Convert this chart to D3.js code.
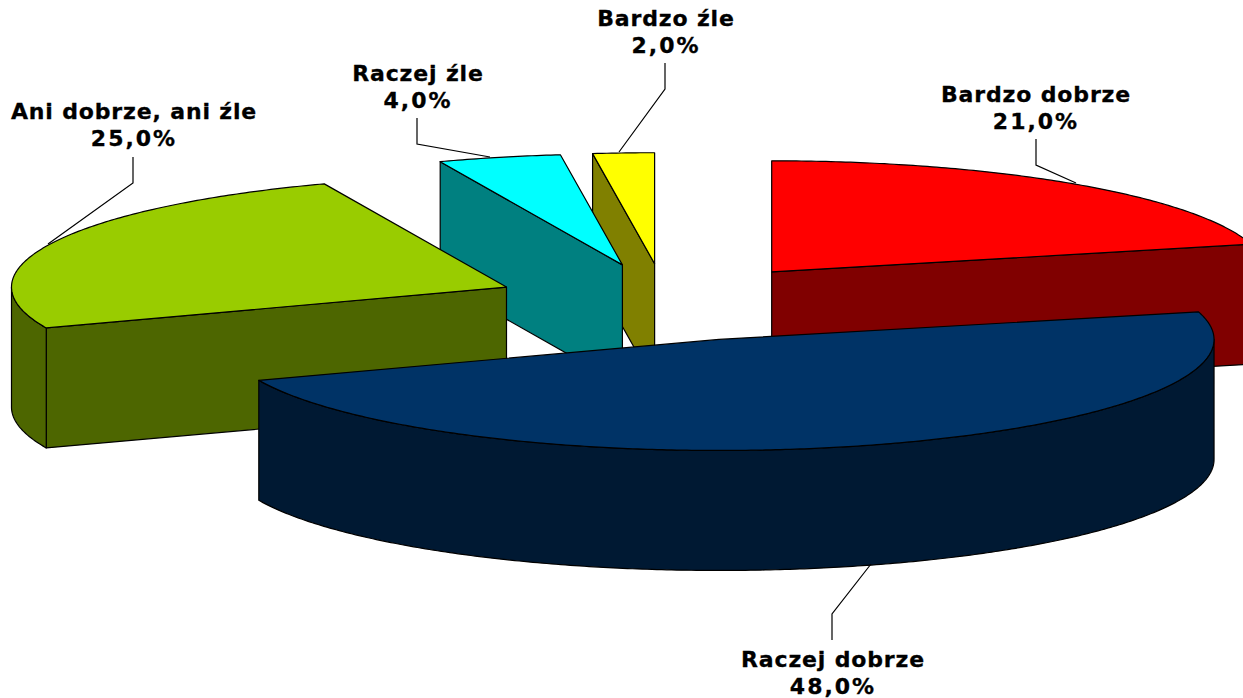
<!DOCTYPE html>
<html><head><meta charset="utf-8"><style>html,body{margin:0;background:#fff;overflow:hidden}svg{display:block}</style>
<script src="https://cdn.jsdelivr.net/npm/d3@7"></script></head><body><svg id="c" width="1243" height="698"></svg>
<script>
const categories=["Bardzo dobrze","Raczej dobrze","Ani dobrze, ani źle","Raczej źle","Bardzo źle"];
const values=[21,48,25,4,2];
const topColors=["#FF0000","#003366","#99CC00","#00FFFF","#FFFF00"];
const sideColors=["#800000","#001933","#4D6600","#008080","#808000"];
const drawOrder=[4,3,0,2,1];
const labelPos=[[1036,102],[833,667],[134,119],[418,81],[666,26]];
const leaders=[[[1036,139],[1036,165],[1076,183]],[[871,564],[832,614],[832,640]],[[133,157],[133,183],[48,244]],[[417,118],[417,144],[490,157]],[[665,63],[665,89],[619,152]]];
const W=1243,H=698,cx=665.5,cy=302.5,rx=495,ry=111,depth=120,explode=.35;
const svg=d3.select("#c");
const arcs=d3.pie().sort(null).value(d=>d)(values);
const pt=(a,c)=>[c[0]+rx*Math.sin(a),c[1]-ry*Math.cos(a)];
const centre=arcs.map(d=>{const m=(d.startAngle+d.endAngle)/2;return [cx+explode*rx*Math.sin(m),cy-explode*ry*Math.cos(m)];});
const line=d3.line();
function samples(a0,a1){const n=Math.max(2,Math.ceil(Math.abs(a1-a0)/.01));return d3.range(n+1).map(i=>a0+(a1-a0)*i/n);}
const g=svg.append("g").attr("stroke","#000").attr("stroke-width",1.2).attr("stroke-linejoin","round");
function face(pts,fill){g.append("path").attr("d",line(pts)+"Z").attr("fill",fill);}
drawOrder.forEach(i=>{
  const d=arcs[i],c=centre[i],s=sideColors[i];
  const down=p=>[p[0],p[1]+depth];
  const p0=pt(d.startAngle,c),p1=pt(d.endAngle,c);
  // cut faces that look towards the viewer
  if(Math.sin(d.startAngle)<-1e-6) face([c,p0,down(p0),down(c)],s);
  if(Math.sin(d.endAngle)>1e-6) face([c,p1,down(p1),down(c)],s);
  // outer wall: only the part on the near side of the ellipse
  const lo=Math.max(d.startAngle,Math.PI/2),hi=Math.min(d.endAngle,3*Math.PI/2);
  if(hi>lo){const top=samples(lo,hi).map(a=>pt(a,c));face(top.concat(top.map(down).reverse()),s);}
  const rim=samples(d.startAngle,d.endAngle).map(a=>pt(a,c));
  face([c].concat(rim),topColors[i]);
});
const lg=svg.append("g").attr("fill","none").attr("stroke","#000").attr("stroke-width",1.2);
leaders.forEach(l=>lg.append("path").attr("d",line(l)));
const fmt=v=>d3.format(".1f")(v).replace(".",",")+"%";
const tg=svg.append("g").attr("font-family","'DejaVu Sans',Verdana,sans-serif").attr("font-weight","700").attr("font-size",22).attr("text-anchor","middle").attr("fill","#000").attr("stroke","#000").attr("stroke-width",.3);
categories.forEach((n,i)=>{
  tg.append("text").attr("x",labelPos[i][0]).attr("y",labelPos[i][1]).attr("letter-spacing",.85).text(n);
  tg.append("text").attr("x",labelPos[i][0]).attr("y",labelPos[i][1]+27).attr("letter-spacing",2).text(fmt(values[i]));
});
</script></body></html>
